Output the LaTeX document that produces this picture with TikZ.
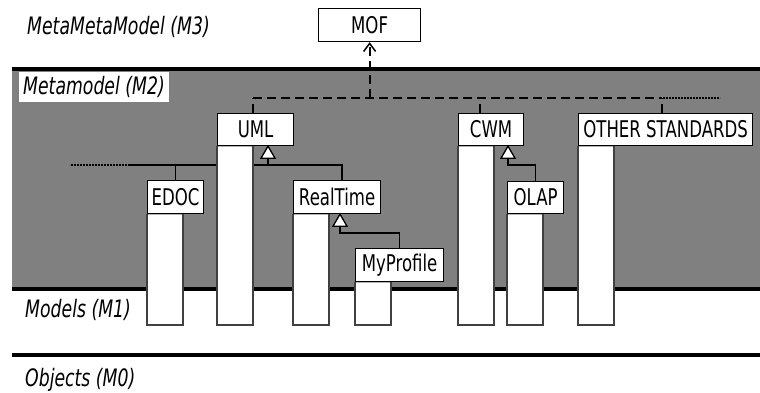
\documentclass[tikz,border=0pt]{standalone}
\usepackage{fontspec}
\setmainfont{DejaVu Sans}[FakeStretch=0.72]
\usetikzlibrary{arrows.meta, positioning, calc}

\begin{document}
\begin{tikzpicture}[x=1pt, y=-1pt,
    font=\fontsize{23}{27}\selectfont,
    hdr/.style={draw, fill=white, line width=1.2pt, anchor=north west, inner sep=0pt, minimum height=32pt},
    lvl/.style={anchor=west, inner sep=0pt, font=\fontsize{24}{28}\selectfont\itshape},
    sep/.style={line width=4pt},
    dep/.style={line width=2pt, dash pattern=on 9pt off 5pt},
    dotx/.style={line width=1.2pt, dash pattern=on 2pt off 1pt},
    gen/.style={line width=1.3pt},
    colm/.style={fill=white, draw=black!75, line width=1.2pt}]
    \useasboundingbox (0,0) rectangle (760,392);

    % --- levels ---
    \fill[black!50] (12,69) rectangle (760,289);
    \draw[sep] (12,69) -- (760,69);
    \draw[sep] (12,289) -- (760,289);
    \draw[sep] (12,355) -- (760,355);

    \node[lvl] (m3) at (27,27) {MetaMetaModel (M3)};
    \node[lvl, fill=white, inner xsep=4pt, minimum height=30pt] (m2) at (19,87) {Metamodel (M2)};
    \node[lvl] (m1) at (25,310) {Models (M1)};
    \node[lvl] (m0) at (25,380) {Objects (M0)};

    % --- boxes ---
    \node[hdr, minimum width=102pt, minimum height=33pt] (mof) at (318,8) {MOF};
    \node[hdr, minimum width=76pt] (uml) at (217,113) {UML};
    \node[hdr, minimum width=65pt] (cwm) at (458,113) {CWM};
    \node[hdr, minimum width=174pt] (other) at (578,113) {OTHER STANDARDS};
    \node[hdr, minimum width=56pt, minimum height=33pt] (edoc) at (147,180) {EDOC};
    \node[hdr, minimum width=87pt, minimum height=33pt] (rt) at (293,180) {RealTime};
    \node[hdr, minimum width=56pt] (olap) at (507,181) {OLAP};
    \node[hdr, minimum width=88pt, minimum height=33pt] (myp) at (355,248) {MyProfile};
    \coordinate (base) at (0,325);

    % --- instance of MOF ---
    \coordinate (busL) at (253,98);
    \coordinate (busR) at (660,98);
    \draw[dep] (busL) -- (busR);
    \draw[dotx] (busR) -- ++(60,0);
    \draw[dep] ([xshift=36pt]uml.north west) -- ++(0,-15);
    \draw[dep] ([xshift=22pt]cwm.north west) -- ++(0,-15);
    \draw[dep] ([xshift=84pt]other.north west) -- ++(0,-15);
    \draw[dep, -{Straight Barb[length=8pt, width=12pt, line width=1.5pt]}] (mof.south |- busL) -- (mof.south);

    % --- generalisation ---
    \coordinate (tu) at ([xshift=51pt]uml.south west);
    \coordinate (tr) at ([xshift=47pt]rt.south west);
    \coordinate (tc) at ([xshift=50pt]cwm.south west);
    \draw[gen] (edoc.north) -- ++(0,-15) coordinate (g1) -| ([xshift=5pt]rt.north);
    \draw[gen] (g1) -- ++(-46,0) coordinate (g0);
    \draw[dotx] (g0) -- ++(-60,0);
    \draw[gen] (tu) ++(0,20) -- ++(0,-8);
    \draw[gen] (myp.north) -- ++(0,-15) -| ([yshift=-12pt]tr);
    \draw[gen] (olap.north) -- ++(0,-16) -| ([yshift=-12pt]tc);
    \foreach \t in {tu,tr,tc}
        \draw[gen, fill=white, line join=miter] (\t) -- ++(-7,12) -- ++(14,0) -- cycle;

    % --- model columns ---
    \foreach \col in {edoc,uml,rt,myp,cwm,olap,other}{
        \draw[colm] let \p1=(\col.south west), \p2=(base) in (\p1) rectangle (\x1+36pt,\y2);
        \draw[draw=black!30, line width=1.2pt] ([xshift=0.6pt]\col.south west) -- ++(34.8,0);
    }
\end{tikzpicture}
\end{document}
